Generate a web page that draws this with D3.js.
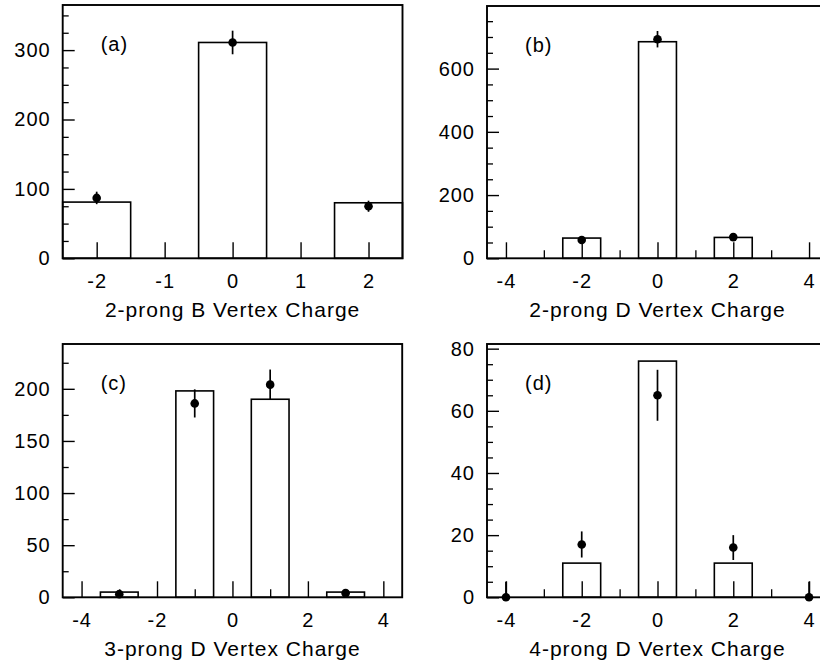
<!DOCTYPE html>
<html>
<head>
<meta charset="utf-8">
<script src="https://cdn.jsdelivr.net/npm/d3@7"></script>
<style>
  html, body { margin: 0; padding: 0; background: #fff; }
  svg { display: block; }
</style>
</head>
<body>
<svg id="chart" width="820" height="667"></svg>
<script>
// ---------- data ----------
const panelLabels = ["(a)", "(b)", "(c)", "(d)"];
const axisTitles = ["2-prong B Vertex Charge", "2-prong D Vertex Charge", "3-prong D Vertex Charge", "4-prong D Vertex Charge"];

// histogram (bars): bin centres and heights
const barsA_x = [-2, 0, 2];        const barsA_y = [81, 311, 80];
const barsB_x = [-2, 0, 2];        const barsB_y = [64, 685, 66];
const barsC_x = [-3, -1, 1, 3];    const barsC_y = [5, 198, 190, 5];
const barsD_x = [-2, 0, 2];        const barsD_y = [11, 76, 11];

// data points with error bars
const ptsA_x = [-2, 0, 2];         const ptsA_y = [87, 311, 75];      const ptsA_err = [9, 17, 8];
const ptsB_x = [-2, 0, 2];         const ptsB_y = [58, 693, 67];      const ptsB_err = [8, 26, 8];
const ptsC_x = [-3, -1, 1, 3];     const ptsC_y = [3, 186, 204, 4];   const ptsC_err = [2, 13.5, 14.5, 2];
const ptsD_x = [-4, -2, 0, 2, 4];  const ptsD_y = [0, 17, 65, 16, 0]; const ptsD_err = [5, 4.2, 8.2, 4, 5];

// axis domains and ticks
const xDomA = [-2.5, 2.5];  const xMajorA = [-2, -1, 0, 1, 2];  const xMinorA = [];
const xDomB = [-4.5, 4.5];  const xMajorB = [-4, -2, 0, 2, 4];  const xMinorB = [-3, -1, 1, 3];
const xDomC = [-4.5, 4.5];  const xMajorC = [-4, -2, 0, 2, 4];  const xMinorC = [-3, -1, 1, 3];
const xDomD = [-4.5, 4.5];  const xMajorD = [-4, -2, 0, 2, 4];  const xMinorD = [-3, -1, 1, 3];

const yMaxA = 365;  const yMajorA = [0, 100, 200, 300];     const yMinorStepA = 25;
const yMaxB = 798;  const yMajorB = [0, 200, 400, 600];     const yMinorStepB = 50;
const yMaxC = 243;  const yMajorC = [0, 50, 100, 150, 200]; const yMinorStepC = 25;
const yMaxD = 81.5; const yMajorD = [0, 20, 40, 60, 80];    const yMinorStepD = 5;

// ---------- layout ----------
const frames = [
  { left: 62.7, right: 402.5, top: 5,   bottom: 258.3 },
  { left: 487,  right: 828,   top: 6,   bottom: 258.3 },
  { left: 62.7, right: 402.2, top: 344, bottom: 597.3 },
  { left: 487,  right: 828,   top: 344, bottom: 597.3 }
];

const panels = [
  { bx: barsA_x, by: barsA_y, px: ptsA_x, py: ptsA_y, pe: ptsA_err, xd: xDomA, xM: xMajorA, xm: xMinorA, ymax: yMaxA, yM: yMajorA, ystep: yMinorStepA },
  { bx: barsB_x, by: barsB_y, px: ptsB_x, py: ptsB_y, pe: ptsB_err, xd: xDomB, xM: xMajorB, xm: xMinorB, ymax: yMaxB, yM: yMajorB, ystep: yMinorStepB },
  { bx: barsC_x, by: barsC_y, px: ptsC_x, py: ptsC_y, pe: ptsC_err, xd: xDomC, xM: xMajorC, xm: xMinorC, ymax: yMaxC, yM: yMajorC, ystep: yMinorStepC },
  { bx: barsD_x, by: barsD_y, px: ptsD_x, py: ptsD_y, pe: ptsD_err, xd: xDomD, xM: xMajorD, xm: xMinorD, ymax: yMaxD, yM: yMajorD, ystep: yMinorStepD }
];

const FONT = "'Liberation Sans', Arial, Helvetica, sans-serif";
const svg = d3.select("#chart");

panels.forEach((p, i) => {
  const f = frames[i];
  const x = d3.scaleLinear().domain(p.xd).range([f.left, f.right]);
  const y = d3.scaleLinear().domain([0, p.ymax]).range([f.bottom, f.top]);
  const g = svg.append("g");

  // bars (bin width 1)
  g.selectAll("rect.bar").data(p.bx.map((c, k) => ({ c, v: p.by[k] }))).join("rect")
    .attr("class", "bar")
    .attr("x", d => x(d.c - 0.5))
    .attr("width", d => x(d.c + 0.5) - x(d.c - 0.5))
    .attr("y", d => y(d.v))
    .attr("height", d => y(0) - y(d.v))
    .attr("fill", "#fff")
    .attr("stroke", "#000")
    .attr("stroke-width", 1.6);

  // minor y ticks
  const yMinor = d3.range(0, p.ymax + 1e-9, p.ystep).filter(v => !p.yM.includes(v));
  g.append("g").attr("transform", `translate(${f.left},0)`)
    .call(d3.axisLeft(y).tickValues(yMinor).tickSizeInner(-6).tickSizeOuter(0).tickFormat(""))
    .call(a => a.select(".domain").remove())
    .call(a => a.selectAll("line").attr("stroke-width", 1.3));

  // major y ticks + labels
  g.append("g").attr("transform", `translate(${f.left},0)`)
    .call(d3.axisLeft(y).tickValues(p.yM).tickSizeInner(-12).tickSizeOuter(0).tickPadding(12).tickFormat(d => String(d)))
    .call(a => a.select(".domain").remove())
    .call(a => a.selectAll("line").attr("stroke-width", 1.4))
    .call(a => a.selectAll("text").attr("font-family", FONT).attr("font-size", 20).attr("letter-spacing", "1px").attr("fill", "#000"));

  // minor x ticks
  if (p.xm.length) {
    g.append("g").attr("transform", `translate(0,${f.bottom})`)
      .call(d3.axisBottom(x).tickValues(p.xm).tickSizeInner(-8).tickSizeOuter(0).tickFormat(""))
      .call(a => a.select(".domain").remove())
      .call(a => a.selectAll("line").attr("stroke-width", 1.3));
  }

  // major x ticks + labels
  g.append("g").attr("transform", `translate(0,${f.bottom})`)
    .call(d3.axisBottom(x).tickValues(p.xM).tickSizeInner(-16).tickSizeOuter(0).tickPadding(16).tickFormat(d => String(d)))
    .call(a => a.select(".domain").remove())
    .call(a => a.selectAll("line").attr("stroke-width", 1.4))
    .call(a => a.selectAll("text").attr("font-family", FONT).attr("font-size", 20).attr("letter-spacing", "1px").attr("fill", "#000"));

  // error bars and points
  const pts = p.px.map((c, k) => ({ c, v: p.py[k], e: p.pe[k] }));
  g.selectAll("line.err").data(pts).join("line")
    .attr("class", "err")
    .attr("x1", d => x(d.c)).attr("x2", d => x(d.c))
    .attr("y1", d => y(Math.max(0, d.v - d.e)))
    .attr("y2", d => y(d.v + d.e))
    .attr("stroke", "#000").attr("stroke-width", 1.7);
  g.selectAll("circle.pt").data(pts).join("circle")
    .attr("class", "pt")
    .attr("cx", d => x(d.c)).attr("cy", d => y(d.v))
    .attr("r", 4.3).attr("fill", "#000");

  // frame
  g.append("rect")
    .attr("x", f.left).attr("y", f.top)
    .attr("width", f.right - f.left).attr("height", f.bottom - f.top)
    .attr("fill", "none").attr("stroke", "#000").attr("stroke-width", 1.9);

  // panel label
  g.append("text")
    .attr("x", x(p.xd[0]) + 38)
    .attr("y", f.top + 46)
    .attr("font-family", FONT).attr("font-size", 20).attr("letter-spacing", "1px")
    .text(panelLabels[i]);

  // axis title
  g.append("text")
    .attr("x", (f.left + f.right) / 2)
    .attr("y", f.bottom + 59)
    .attr("text-anchor", "middle")
    .attr("font-family", FONT).attr("font-size", 21).attr("letter-spacing", "1px")
    .text(axisTitles[i]);
});
</script>
</body>
</html>
